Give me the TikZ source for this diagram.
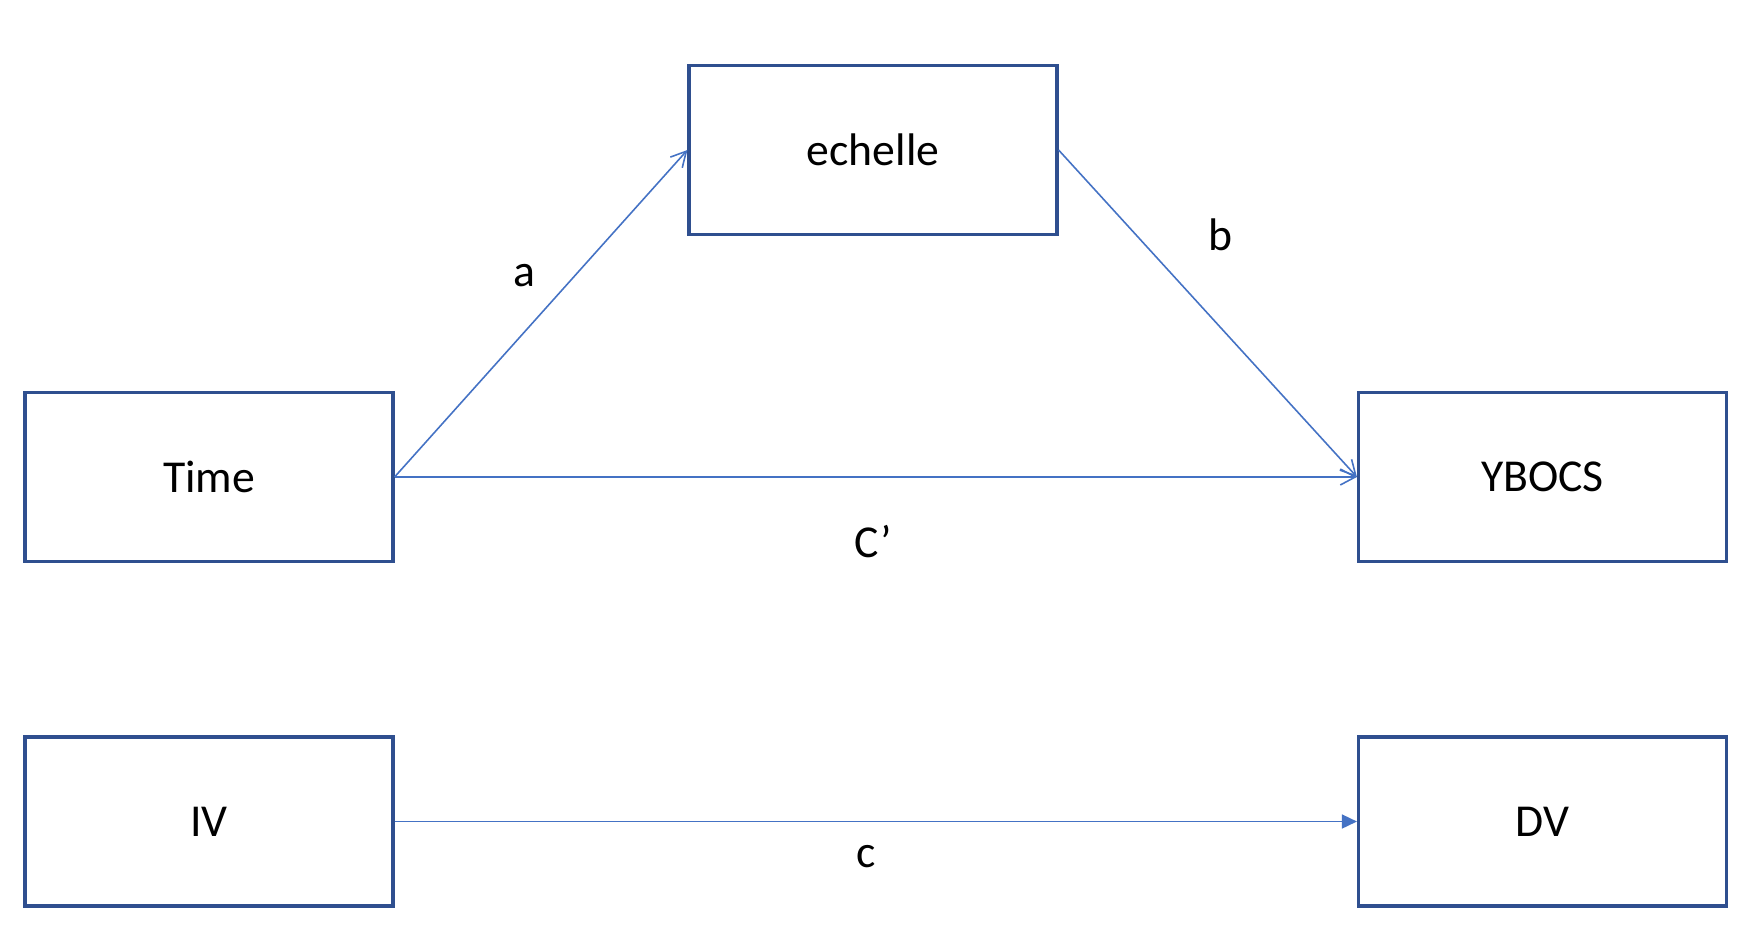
\documentclass[tikz,border=0pt]{standalone}
\usepackage{fontspec}
\setmainfont{Carlito}
\usepackage{tikz}
\usetikzlibrary{arrows.meta,positioning}
\definecolor{boxblue}{HTML}{2F4F8F}
\definecolor{lineblue}{HTML}{4472C4}

\begin{document}
\begin{tikzpicture}[>={Straight Barb[length=1.5mm,width=1.6mm]},font=\fontsize{13}{15}\selectfont]
		\tikzstyle{var}=[rectangle,line width=0.9pt,draw=boxblue,fill=white,minimum width=3.68cm,minimum height=1.69cm]
		\tikzstyle{pfad}=[->,draw=lineblue,line width=0.45pt]
		\useasboundingbox (0,0) rectangle (17.56,9.46);
		
		\node[var] (echelle) at (8.73,7.96) {echelle};
		\node[var] (time) at (2.09,4.69) {Time};
		\node[var] (ybocs) at (15.425,4.69) {YBOCS};
		\node[var] (iv) at (2.09,1.245) {IV};
		\node[var] (dv) at (15.425,1.245) {DV};
		
		\draw[pfad] (time.east) -- (echelle.west);
		\draw[pfad] (echelle.east) -- (ybocs.west);
		\draw[pfad] (time.east) -- (ybocs.west);
		\draw[pfad,-{Triangle[length=1.5mm,width=1.4mm]}] (iv.east) -- (dv.west);
		
		\node (label_a) at (5.24,6.70) {a};
		\node (label_b) at (12.20,7.11) {b};
		\node (label_cs) at (8.73,4.04) {C’};
		\node (label_c) at (8.66,0.895) {c};
	\end{tikzpicture}
\end{document}
